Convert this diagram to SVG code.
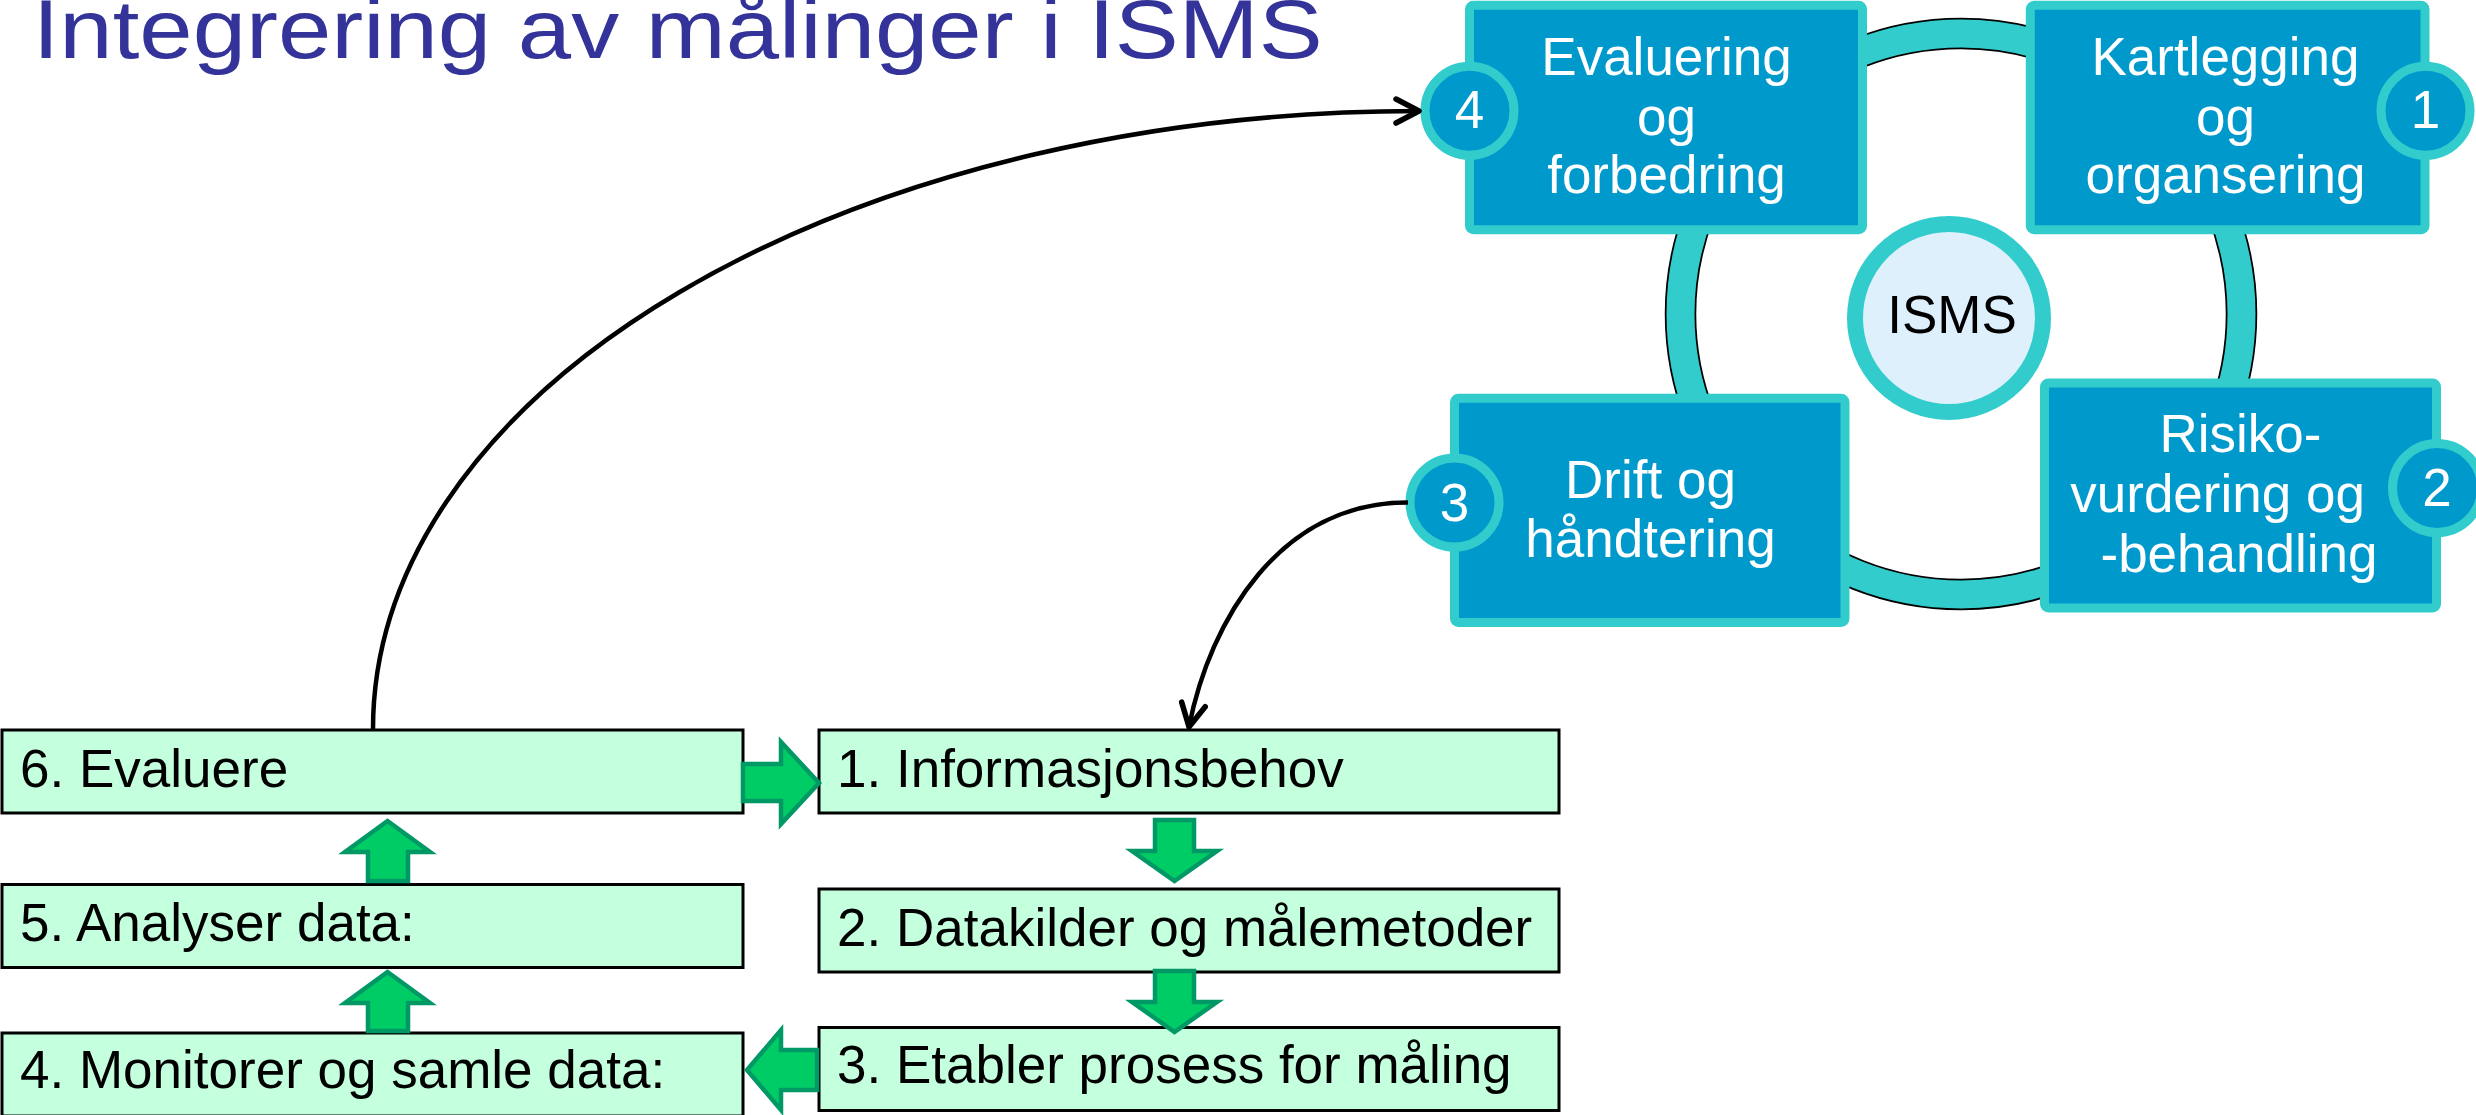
<svg xmlns="http://www.w3.org/2000/svg" width="2476" height="1115" viewBox="0 0 2476 1115">
  <defs>
    <style>
      .title { font-family: "Liberation Sans", Arial, sans-serif; font-size: 83px; fill: #333399; }
      .qbox { fill: #0099CC; stroke: #33CCCC; stroke-width: 9; }
      .badge { fill: #0099CC; stroke: #33CCCC; stroke-width: 9; }
      .qtext { font-family: "Liberation Sans", Arial, sans-serif; font-size: 53px; fill: #FFFFFF; text-anchor: middle; }
      .isms { font-family: "Liberation Sans", Arial, sans-serif; font-size: 53px; fill: #000000; text-anchor: middle; }
      .fbox { fill: #C4FFDE; stroke: #000000; stroke-width: 3; }
      .ftext { font-family: "Liberation Sans", Arial, sans-serif; font-size: 53px; fill: #000000; }
      .garrow { fill: #00CC66; stroke: #009966; stroke-width: 4.5; stroke-linejoin: miter; }
      .conn { fill: none; stroke: #000000; stroke-width: 4.5; }
    </style>
    <marker id="chev" markerUnits="userSpaceOnUse" viewBox="0 0 32 30" refX="28" refY="15" markerWidth="32" markerHeight="30" orient="auto">
      <path d="M5,3 L28,15 L5,27" fill="none" stroke="#000000" stroke-width="5.5" stroke-linecap="round" stroke-linejoin="round"/>
    </marker>
  </defs>

  <text class="title" x="32.7" y="58.3" textLength="1290" lengthAdjust="spacingAndGlyphs">Integrering av målinger i ISMS</text>

  <!-- ISMS cycle -->
  <g id="ring">
    <circle cx="1961" cy="314" r="280.5" fill="none" stroke="#000000" stroke-width="31.5"/>
    <circle cx="1961" cy="314" r="280.5" fill="none" stroke="#33CCCC" stroke-width="28"/>
  </g>
  <g id="isms-center">
    <circle cx="1949" cy="318" r="94" fill="#DDF0FB" stroke="#33CCCC" stroke-width="16"/>
    <text class="isms" x="1952" y="333">ISMS</text>
  </g>

  <g id="q4">
    <rect class="qbox" x="1469.5" y="5.3" width="393" height="224.4" rx="4"/>
    <text class="qtext" x="1666.5" y="74.6">Evaluering</text>
    <text class="qtext" x="1666.5" y="134.7">og</text>
    <text class="qtext" x="1666.5" y="192.7">forbedring</text>
    <circle class="badge" cx="1469.5" cy="110.8" r="44.5"/>
    <text class="qtext" x="1469.5" y="128.3">4</text>
  </g>

  <g id="q1">
    <rect class="qbox" x="2030.3" y="5.3" width="394.7" height="224.4" rx="4"/>
    <text class="qtext" x="2225.5" y="74.6">Kartlegging</text>
    <text class="qtext" x="2225.5" y="134.7">og</text>
    <text class="qtext" x="2225.5" y="192.7">organsering</text>
    <circle class="badge" cx="2425.5" cy="110.8" r="44.5"/>
    <text class="qtext" x="2425.5" y="128.3">1</text>
  </g>

  <g id="q3">
    <rect class="qbox" x="1454.5" y="398.3" width="390.5" height="224.2" rx="4"/>
    <text class="qtext" x="1650.5" y="498">Drift og</text>
    <text class="qtext" x="1650.5" y="557">håndtering</text>
    <circle class="badge" cx="1454.5" cy="502.5" r="44.5"/>
    <text class="qtext" x="1454.5" y="521">3</text>
  </g>

  <g id="q2">
    <rect class="qbox" x="2044.5" y="383" width="392" height="225" rx="4"/>
    <text class="qtext" x="2240.5" y="452">Risiko-</text>
    <text class="qtext" x="2217.6" y="512">vurdering og</text>
    <text class="qtext" x="2239" y="572">-behandling</text>
    <circle class="badge" cx="2437" cy="488" r="44.5"/>
    <text class="qtext" x="2437" y="506">2</text>
  </g>

  <!-- Measurement process boxes -->
  <g id="s6">
    <rect class="fbox" x="2" y="730" width="741" height="83"/>
    <text class="ftext" x="20" y="787.3">6. Evaluere</text>
  </g>
  <g id="s1">
    <rect class="fbox" x="819" y="730" width="740" height="83"/>
    <text class="ftext" x="837" y="787.3">1. Informasjonsbehov</text>
  </g>
  <g id="s5">
    <rect class="fbox" x="2" y="884.5" width="741" height="83"/>
    <text class="ftext" x="20" y="940.7">5. Analyser data:</text>
  </g>
  <g id="s2">
    <rect class="fbox" x="819" y="889" width="740" height="83"/>
    <text class="ftext" x="837" y="945.7">2. Datakilder og målemetoder</text>
  </g>
  <g id="s4">
    <rect class="fbox" x="2" y="1033" width="741" height="83"/>
    <text class="ftext" x="20" y="1088.3">4. Monitorer og samle data:</text>
  </g>
  <g id="s3">
    <rect class="fbox" x="819" y="1027.5" width="740" height="83"/>
    <text class="ftext" x="837" y="1082.7">3. Etabler prosess for måling</text>
  </g>

  <!-- Connectors -->
  <g id="connectors">
    <polygon class="garrow" points="743,764 781,764 781,742 819,783 781,824 781,801 743,801"/>
    <polygon class="garrow" points="1155,820 1194,820 1194,851 1217,851 1174.5,881 1132,851 1155,851"/>
    <polygon class="garrow" points="1155,971 1194,971 1194,1002 1217,1002 1174.5,1032 1132,1002 1155,1002"/>
    <polygon class="garrow" points="817,1050 817,1090 781,1090 781,1110 747,1070 781,1030 781,1050"/>
    <polygon class="garrow" points="368,1031 408,1031 408,1003 430,1003 387.5,972 345,1003 368,1003"/>
    <polygon class="garrow" points="368,881 408,881 408,852 430,852 387.5,821 345,852 368,852"/>
    <path class="conn" d="M 373 729 A 1047 618 0 0 1 1419 111" marker-end="url(#chev)"/>
    <path class="conn" d="M 1408 502.5 C 1280 502 1210 620 1189 727" marker-end="url(#chev)"/>
  </g>
</svg>
